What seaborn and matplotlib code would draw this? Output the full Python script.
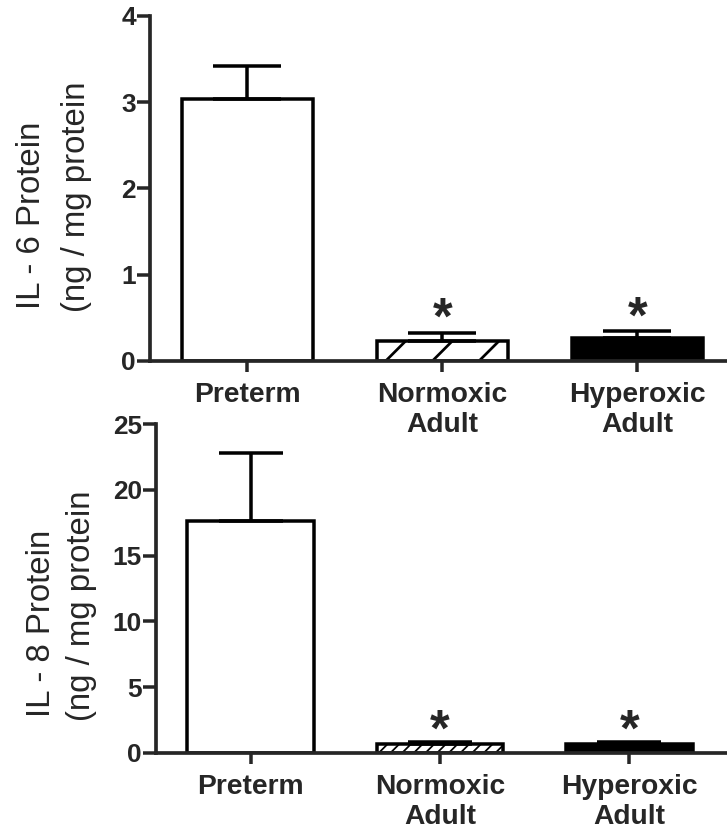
import matplotlib
matplotlib.use("Agg")
import matplotlib.pyplot as plt
import seaborn as sns
import pandas as pd

# ---- data ----
categories = ["Preterm", "Normoxic\nAdult", "Hyperoxic\nAdult"]
il6_mean = [3.04, 0.23, 0.27]
il6_sem = [0.38, 0.10, 0.08]
il8_mean = [17.65, 0.66, 0.66]
il8_sem = [5.2, 0.18, 0.18]
bar_colors = ["white", "white", "black"]
il6_ticks = [0, 1, 2, 3, 4]
il8_ticks = [0, 5, 10, 15, 20, 25]
il6_label = ["IL - 6 Protein", "(ng / mg protein"]
il8_label = ["IL - 8 Protein", "(ng / mg protein"]

sns.set_style("ticks")
plt.rcParams["font.family"] = ["Liberation Sans", "DejaVu Sans"]

DPI = 140
W, H = 727, 830
fig = plt.figure(figsize=(W / DPI, H / DPI), dpi=DPI)

LW = 1.8


def fx(px):
    return px / W


def fy(py):
    return 1 - py / H


def panel(rect, means, sems, ticks, ylim, xmax, hatch, hatch_lw, capsize,
          labels, lab_pos, star_off):
    ax = fig.add_axes(rect)
    df = pd.DataFrame({"group": categories, "value": means})
    with plt.rc_context({"hatch.linewidth": hatch_lw}):
        sns.barplot(data=df, x="group", y="value", hue="group",
                    palette=bar_colors, legend=False, width=0.67,
                    edgecolor="black", linewidth=LW, ax=ax, errorbar=None)
        ax.patches[1].set_hatch(hatch)
        if hasattr(ax.patches[1], "set_hatch_linewidth"):
            ax.patches[1].set_hatch_linewidth(hatch_lw)
    ax.errorbar(range(len(means)), means, yerr=[[0] * len(means), sems],
                fmt="none", ecolor="black", elinewidth=LW, capsize=capsize,
                capthick=LW, zorder=5)
    for i in (1, 2):
        ax.annotate("*", xy=(i, means[i] + sems[i]), xytext=(0, star_off),
                    textcoords="offset points", ha="center", va="baseline",
                    fontsize=26, fontweight="bold", zorder=6)
    ax.set_xlim(-0.5, xmax)
    ax.set_ylim(*ylim)
    ax.set_yticks(ticks)
    ax.set_yticklabels([str(t) for t in ticks])
    ax.set_xlabel("")
    ax.set_ylabel("")
    sns.despine(ax=ax)
    for s in ("left", "bottom"):
        ax.spines[s].set_linewidth(LW + 0.1)
    ax.tick_params(axis="y", length=6.7, width=LW, pad=0.5, labelsize=13.5)
    ax.tick_params(axis="x", length=5.7, width=LW, pad=5, labelsize=14.5)
    for t in ax.get_xticklabels() + ax.get_yticklabels():
        t.set_fontweight("bold")
    ax.patch.set_visible(False)
    for txt, (bx, cy) in zip(labels, lab_pos):
        fig.text(fx(bx), fy(cy), txt, rotation=90, rotation_mode="anchor",
                 ha="center", va="baseline", fontsize=17)
    return ax


panel([fx(150), fy(361), fx(727 - 150), (361 - 16) / H],
      il6_mean, il6_sem, il6_ticks, (0, 4), 2.459, "/", 1.4, 17.5,
      il6_label, [(40, 215), (85, 197)], -0.8)

panel([fx(156), fy(752.7), fx(726 - 156), (752.7 - 424.3) / H],
      il8_mean, il8_sem, il8_ticks, (0, 25), 2.51, "////", 0.9, 16.7,
      il8_label, [(50, 623), (90, 606)], -1.8)

fig.savefig("out.png", dpi=DPI, facecolor="white")
